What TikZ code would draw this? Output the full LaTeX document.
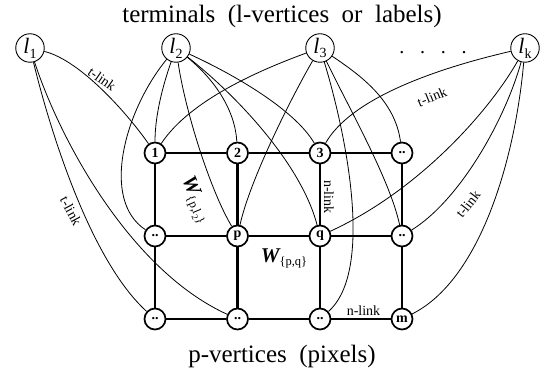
\documentclass[tikz,border=0pt]{standalone}
\usepackage{fontspec}
\setmainfont{Liberation Serif}
\newcommand\termlab[1]{\textit{l}\raisebox{-0.22em}{\fontsize{14}{14}\selectfont #1}}
\newcommand\wlabel[1]{{\fontsize{21}{21}\selectfont\bfseries\itshape W}\raisebox{-0.3em}{\fontsize{12.5}{12.5}\selectfont\{#1\}}}
\begin{document}
\begin{tikzpicture}[x=1pt,y=-1pt,
  term/.style={circle, draw, line width=0.9pt, minimum size=28.5pt, inner sep=0pt, font=\fontsize{22}{22}\selectfont},
  pix/.style={circle, draw, line width=1.7pt, minimum size=21pt, inner sep=0pt, font=\bfseries\fontsize{14}{14}\selectfont},
  nlink/.style={line width=2.2pt},
  tlink/.style={line width=0.8pt},
  lab/.style={font=\fontsize{14}{14}\selectfont, inner sep=0pt},
  big/.style={font=\fontsize{25}{30}\selectfont, inner sep=0pt}
]
\useasboundingbox (0,0) rectangle (546,371);

% titles
\node[big, anchor=base] (title) at (282,22.5) {\spaceskip=0.5em\relax terminals (l-vertices or labels)};
\node[big, anchor=base] (bottom) at (282,362) {\spaceskip=0.5em\relax p-vertices (pixels)};

% terminals
\node[term] (T1) at (30,48) {\termlab{1}};
\node[term] (T2) at (176,48) {\termlab{2}};
\node[term] (T3) at (320,48) {\termlab{3}};
\node[term] (Tk) at (525,48) {\termlab{k}};
\node[font=\fontsize{20}{20}\selectfont, anchor=base, inner sep=0pt] (dots) at (433,53.5) {.\hspace{15.7pt}.\hspace{15.7pt}.\hspace{15.7pt}.};

% pixels
\node[pix] (g11) at (155,153) {1};
\node[pix] (g12) at (237.5,153) {2};
\node[pix] (g13) at (320,153) {3};
\node[pix] (g14) at (402,153) {..};
\node[pix] (g21) at (155,236) {..};
\node[pix] (p) at (237.5,236) {p};
\node[pix] (q) at (320,236) {q};
\node[pix] (g24) at (402,236) {..};
\node[pix] (g31) at (155,319) {..};
\node[pix] (g32) at (237.5,319) {..};
\node[pix] (g33) at (320,319) {..};
\node[pix] (m) at (402,319) {m};

% n-links
\draw[nlink] (g11)--(g12) (g12)--(g13) (g13)--(g14)
  (g21)--(p) (p)--(q) (q)--(g24)
  (g31)--(g32) (g32)--(g33) (g33)--(m)
  (g11)--(g21) (g21)--(g31) (g12)--(p) (p)--(g32)
  (g13)--(q) (q)--(g33) (g14)--(g24) (g24)--(m);

% t-links
\draw[tlink] (T1) .. controls (80,60) and (127,113) .. (g11);
\draw[tlink] (T1) .. controls (50,130) and (90,260) .. (g31);
\draw[tlink] (T1) .. controls (60,140) and (130,270) .. (g32);
\draw[tlink] (T2) .. controls (125,110) and (100,200) .. (g21);
\draw[tlink] (T2) .. controls (163,85) and (155,115) .. (g11);
\draw[tlink] (T2) .. controls (185,110) and (210,190) .. (p);
\draw[tlink] (T2) .. controls (215,80) and (235,110) .. (g12);
\draw[tlink] (T2) .. controls (230,90) and (300,160) .. (q);
\draw[tlink] (T2) .. controls (235,75) and (295,110) .. (g13);
\draw[tlink] (T3) .. controls (260,70) and (190,100) .. (g11);
\draw[tlink] (T3) .. controls (290,100) and (250,180) .. (p);
\draw[tlink] (T3) .. controls (345,130) and (375,270) .. (g33);
\draw[tlink] (T3) .. controls (350,110) and (390,180) .. (g24);
\draw[tlink] (T3) .. controls (360,75) and (395,100) .. (g14);
\draw[tlink] (Tk) .. controls (430,70) and (350,100) .. (g13);
\draw[tlink] (Tk) .. controls (490,110) and (420,190) .. (q);
\draw[tlink] (Tk) .. controls (505,120) and (460,200) .. (g24);
\draw[tlink] (Tk) .. controls (515,160) and (480,280) .. (m);

% labels
\node[lab, rotate=-35] (tl1) at (102,79) {t-link};
\node[lab, rotate=-62] (tl2) at (71,211) {t-link};
\node[lab, rotate=22] (tl3) at (432,97) {t-link};
\node[lab, rotate=52] (tl4) at (468,204) {t-link};
\node[lab, rotate=-90] (nl1) at (329,197) {n-link};
\node[lab, anchor=base] (nl2) at (363.5,315.5) {n-link};
\node[inner sep=0pt, rotate=-67] (wpl) at (195,200) {\wlabel{p,l\raisebox{-0.2em}{\fontsize{9}{9}\selectfont 2}}};
\node[inner sep=0pt] (wpq) at (284,258) {\wlabel{p,q}};
\end{tikzpicture}
\end{document}
